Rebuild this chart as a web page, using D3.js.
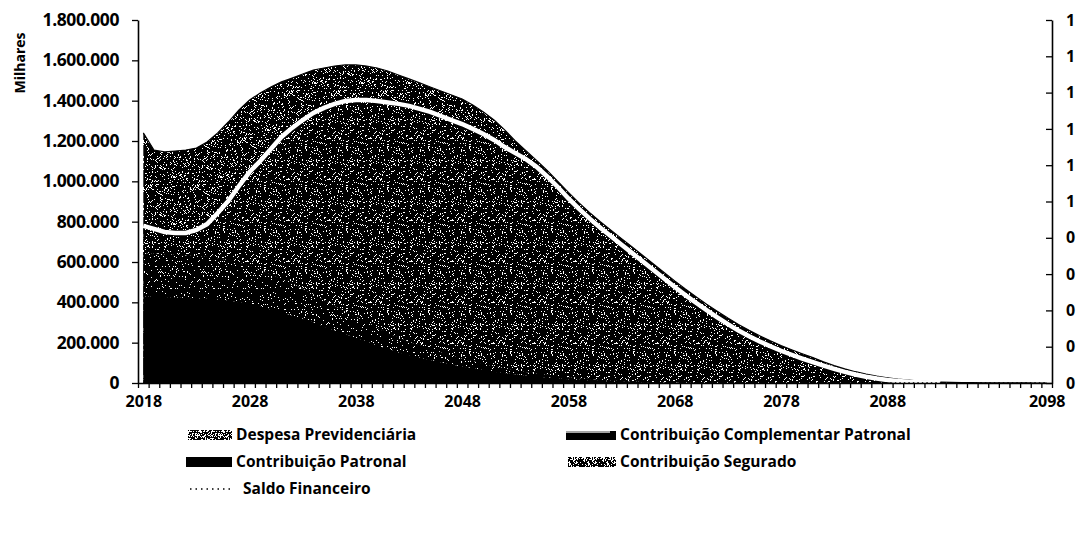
<!DOCTYPE html>
<html><head><meta charset="utf-8">
<script src="https://cdn.jsdelivr.net/npm/d3@7"></script>
<style>
body{margin:0;background:#fff}
svg{display:block}
text{font-family:"Open Sans",sans-serif;font-weight:700;fill:#000}
</style>
</head><body>
<svg id="c" width="1081" height="535"></svg>
<script>
// ---- DATA (values in "Milhares") ----
const years = [2018,2019,2020,2021,2022,2023,2024,2025,2026,2027,2028,2029,2030,2031,2032,2033,2034,2035,2036,2037,
2038,2039,2040,2041,2042,2043,2044,2045,2046,2047,2048,2049,2050,2051,2052,2053,2054,2055,2056,2057,
2058,2059,2060,2061,2062,2063,2064,2065,2066,2067,2068,2069,2070,2071,2072,2073,2074,2075,2076,2077,
2078,2079,2080,2081,2082,2083,2084,2085,2086,2087,2088,2089,2090,2091,2092,2093,2094,2095,2096,2097,
2098,2099,2100,2101,2102,2103];

const despesaPrevidenciaria = [1240000,1155000,1146000,1150000,1155000,1165000,1195000,1240000,1294000,1354000,
1403000,1438000,1468000,1493000,1512000,1532000,1552000,1562000,1572000,1577000,
1577000,1572000,1562000,1547000,1527000,1508000,1488000,1468000,1448000,1428000,
1408000,1379000,1344000,1304000,1255000,1200000,1152000,1104000,1054000,1000000,
945000,893000,845000,800000,758000,716000,674000,632000,590000,548000,
506000,466000,428000,391000,356000,322000,290000,261000,234000,209000,
186000,165000,145000,126000,105000,86000,70000,56000,44000,34000,
26000,19000,14000,10000,7000,5000,3500,2500,1500,1000,
600,400,300,200,100,100];

const contribuicaoPatronal = [430000,428000,426000,424000,422000,420000,418000,414000,408000,400000,
390000,378000,364000,350000,335000,318000,300000,280000,260000,242000,
225000,208000,185000,168000,153000,139000,126000,114000,103000,92000,
82000,73000,64000,56000,49000,43000,37000,32000,27000,23000,
19000,16000,13000,10000,8000,6000,5000,4000,3000,2000,
1000,1000,0,0,0,0,0,0,0,0,
0,0,0,0,0,0,0,0,0,0,
0,0,0,0,0,0,0,0,0,0,
0,0,0,0,0,0];

const contribuicaoSegurado = [215000,214000,213000,212000,211000,210000,208000,205000,201000,196000,
190000,183000,175000,167000,158000,149000,140000,131000,122000,113000,
104000,96000,88000,80000,73000,66000,60000,54000,49000,44000,
39000,35000,31000,27000,24000,21000,18000,16000,14000,12000,
10000,8000,7000,6000,5000,4000,3000,2000,2000,1000,
1000,0,0,0,0,0,0,0,0,0,
0,0,0,0,0,0,0,0,0,0,
0,0,0,0,0,0,0,0,0,0,
0,0,0,0,0,0];

const contribuicaoComplementarPatronal = [134000,122000,110000,108000,111000,129000,162000,224000,294000,381000,
466000,540000,621000,703000,772000,837000,899000,953000,1002000,1043000,
1074000,1099000,1125000,1143000,1158000,1169000,1173000,1176000,1172000,1168000,
1163000,1152000,1140000,1122000,1097000,1076000,1055000,1024000,983000,937000,
886000,839000,795000,754000,715000,676000,636000,596000,555000,515000,
474000,435000,398000,361000,326000,292000,260000,232000,206000,182000,
160000,140000,121000,103000,86000,70000,55000,42000,31000,22000,
15000,10000,6000,4000,2000,1000,0,0,0,0,
0,0,0,0,0,0];

const saldoFinanceiro = [0,0,0,0,0,0,0,0,0,0,0,0,0,0,0,0,0,0,0,0,
0,0,0,0,0,0,0,0,0,0,0,0,0,0,0,0,0,0,0,0,
0,0,0,0,0,0,0,0,0,0,0,0,0,0,0,0,0,0,0,0,
0,0,0,0,0,0,0,0,0,0,0,0,0,0,0,0,0,0,0,0,
0,0,0,0,0,0];

const leftTicks = [0,200000,400000,600000,800000,1000000,1200000,1400000,1600000,1800000];
const rightTicks = [0,0.1,0.2,0.3,0.4,0.5,0.6,0.7,0.8,0.9,1.0];
const xLabelAt = [2018,2028,2038,2048,2058,2068,2078,2088,2103];
const xLabelText = ["2018","2028","2038","2048","2058","2068","2078","2088","2098"];
const seriesNames = ["Despesa Previdenciária","Contribuição Complementar Patronal","Contribuição Patronal","Contribuição  Segurado","Saldo Financeiro"];

// ---- CHART ----
const svg = d3.select('#c');
const defs = svg.append('defs');
function hash(i,j,s){const v=Math.sin(i*127.1+j*311.7+s*74.7)*43758.5453;return v-Math.floor(v);}
function speckle(id,density,seed,size){
  const p=defs.append('pattern').attr('id',id).attr('patternUnits','userSpaceOnUse')
    .attr('width',size).attr('height',size);
  p.append('rect').attr('width',size).attr('height',size).attr('fill','#000');
  for(let i=0;i<size;i++)for(let j=0;j<size;j++){
    if(hash(i,j,seed)<density) p.append('rect').attr('x',i).attr('y',j).attr('width',1).attr('height',1).attr('fill','#fff');
  }
}
speckle('pDesp',0.13,1,47);
speckle('pSeg',0.07,2,43);
speckle('pComp',0.11,3,41);
speckle('pDespL',0.42,4,23);
speckle('pSegL',0.30,5,19);

const x = d3.scaleLinear().domain([2017.5,2103.5]).range([138,1052]);
const y = d3.scaleLinear().domain([0,1800000]).range([383,20]);
const y2 = d3.scaleLinear().domain([0,1]).range([383,20]);

const rows = years.map((yr,i)=>({year:yr,despesa:despesaPrevidenciaria[i],patronal:contribuicaoPatronal[i],
  segurado:contribuicaoSegurado[i],complementar:contribuicaoComplementarPatronal[i],saldo:saldoFinanceiro[i]}));
const stacked = d3.stack().keys(['patronal','segurado','complementar'])(rows);

const g = svg.append('g');
g.append('path').datum(rows)
  .attr('d', d3.area().x(d=>x(d.year)).y0(y(0)).y1(d=>y(d.despesa)))
  .attr('fill','url(#pDesp)');
g.append('path').datum(rows)
  .attr('d', d3.line().x(d=>x(d.year)).y(d=>y(d.despesa)))
  .attr('fill','none').attr('stroke','#000').attr('stroke-width',1.2);

const fills = {patronal:'#000',segurado:'url(#pSeg)',complementar:'url(#pComp)'};
stacked.forEach(layer=>{
  g.append('path').datum(layer)
    .attr('d', d3.area().x(d=>x(d.data.year)).y0(d=>y(d[0])).y1(d=>y(d[1])))
    .attr('fill', fills[layer.key]);
});
const topLayer = stacked[stacked.length-1];
g.append('path').datum(topLayer.filter(d=>d[1]>0))
  .attr('d', d3.line().x(d=>x(d.data.year)).y(d=>y(d[1])))
  .attr('fill','none').attr('stroke','#fff').attr('stroke-width',4.5);

g.append('path').datum(rows)
  .attr('d', d3.line().x(d=>x(d.year)).y(d=>y2(d.saldo)))
  .attr('fill','none').attr('stroke','#000').attr('stroke-width',1.5).attr('stroke-dasharray','1.5,3');

// axes
const fmt = d3.formatLocale({decimal:",",thousands:".",grouping:[3],currency:["R$",""]}).format(",.0f");
const ax = svg.append('g').attr('transform','translate(138,0)')
  .call(d3.axisLeft(y).tickValues(leftTicks).tickFormat(fmt).tickSizeInner(6).tickSizeOuter(0).tickPadding(13));
ax.selectAll('text').style('font-size','17.5px').style('letter-spacing','-0.4px');

const axr = svg.append('g').attr('transform','translate(1052,0)')
  .call(d3.axisRight(y2).tickValues(rightTicks).tickFormat(d=>String(Math.round(d))).tickSizeInner(-6).tickSizeOuter(0).tickPadding(14));
axr.selectAll('text').style('font-size','16px');

const axb = svg.append('g').attr('transform','translate(0,383)')
  .call(d3.axisBottom(x).tickValues(d3.range(2017.5,2104,1)).tickFormat('').tickSizeInner(5).tickSizeOuter(0));
const axl = svg.append('g').attr('transform','translate(0,383)')
  .call(d3.axisBottom(x).tickValues(xLabelAt).tickFormat((d,i)=>xLabelText[i]).tickSize(0).tickPadding(13));
axl.select('.domain').remove();
axl.selectAll('text').style('font-size','16px');

svg.selectAll('.domain').attr('stroke','#000').attr('stroke-width',1.6);
svg.selectAll('.tick line').attr('stroke','#000').attr('stroke-width',1.3);

svg.append('text').attr('transform','translate(25,63) rotate(-90)').attr('text-anchor','middle')
  .style('font-size','14px').text('Milhares');

// legend
const lg = svg.append('g').style('font-size','15.5px');
const items = [
  {name:seriesNames[0], sx:188, tx:236, cy:435, kind:'desp'},
  {name:seriesNames[1], sx:566, tx:620, cy:435, kind:'comp'},
  {name:seriesNames[2], sx:186, tx:236, cy:462, kind:'pat'},
  {name:seriesNames[3], sx:568, tx:620, cy:462, kind:'seg'},
  {name:seriesNames[4], sx:190, tx:243, cy:489, kind:'saldo'}
];
items.forEach(it=>{
  const sw = it.tx - it.sx - 4;
  if(it.kind==='desp') lg.append('rect').attr('x',it.sx).attr('y',it.cy-5).attr('width',sw).attr('height',10).attr('fill','url(#pDespL)');
  if(it.kind==='seg') lg.append('rect').attr('x',it.sx).attr('y',it.cy-5).attr('width',sw).attr('height',10).attr('fill','url(#pSegL)');
  if(it.kind==='pat') lg.append('rect').attr('x',it.sx).attr('y',it.cy-5).attr('width',sw).attr('height',10).attr('fill','#000');
  if(it.kind==='comp'){
    lg.append('rect').attr('x',it.sx).attr('y',it.cy-4).attr('width',sw).attr('height',9).attr('fill','#000');
    lg.append('line').attr('x1',it.sx).attr('x2',it.sx+sw-6).attr('y1',it.cy-3).attr('y2',it.cy-3).attr('stroke','#ddd').attr('stroke-width',1.5);
  }
  if(it.kind==='saldo') lg.append('line').attr('x1',it.sx).attr('x2',it.tx-10).attr('y1',it.cy).attr('y2',it.cy)
    .attr('stroke','#000').attr('stroke-width',1.5).attr('stroke-dasharray','1.5,4');
  lg.append('text').attr('x',it.tx).attr('y',it.cy).attr('dy','0.35em').text(it.name);
});
</script>
</body></html>
